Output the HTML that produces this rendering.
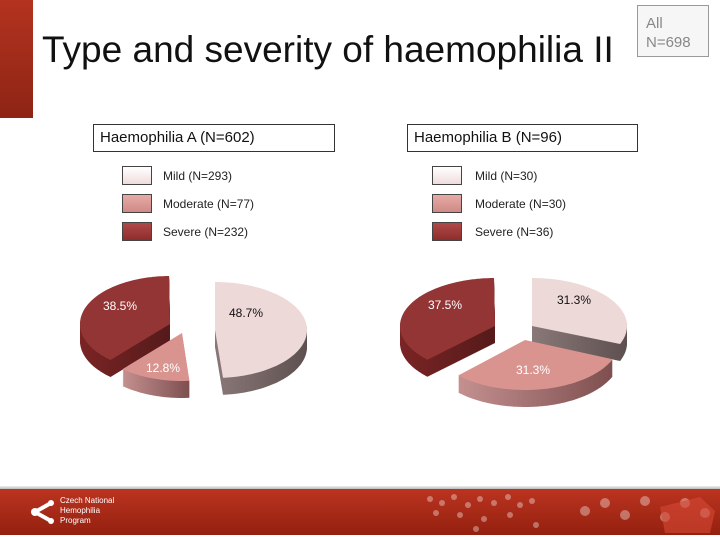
<!DOCTYPE html>
<html><head><meta charset="utf-8"><style>
body{margin:0;width:720px;height:540px;background:#fff;position:relative;overflow:hidden;font-family:"Liberation Sans",sans-serif}
.abs{position:absolute}
.hdr{position:absolute;border:1px solid #333;font-size:15px;line-height:26px;padding-left:6px;box-sizing:border-box;height:28px;color:#111}
.sw{position:absolute;width:28px;height:17px;border:1px solid #444}
.lt{position:absolute;font-size:12px;color:#222}
</style></head><body>
<div class="abs" style="left:0;top:0;width:33px;height:118px;background:linear-gradient(#b3331f,#8e2415)"></div>
<div class="abs" style="left:42px;top:29px;font-size:37px;color:#111;white-space:nowrap">Type and severity of haemophilia II</div>
<div class="abs" style="left:637px;top:5px;width:72px;height:52px;border:1px solid #999;background:#f6f6f6;color:#888;font-size:15px;line-height:19px;padding:8px 0 0 8px;box-sizing:border-box">All<br>N=698</div>

<div class="hdr" style="left:93px;top:124px;width:242px">Haemophilia A (N=602)</div>
<div class="hdr" style="left:407px;top:124px;width:231px">Haemophilia B (N=96)</div>

<div class="sw" style="left:122px;top:166px;background:linear-gradient(#fff,#f0dcdc)"></div>
<div class="sw" style="left:122px;top:194px;background:linear-gradient(#e6aaa7,#d08a86)"></div>
<div class="sw" style="left:122px;top:222px;background:linear-gradient(#b04a4a,#8e2c2c)"></div>
<div class="lt" style="left:163px;top:169px">Mild (N=293)</div>
<div class="lt" style="left:163px;top:197px">Moderate (N=77)</div>
<div class="lt" style="left:163px;top:225px">Severe (N=232)</div>

<div class="sw" style="left:432px;top:166px;background:linear-gradient(#fff,#f0dcdc)"></div>
<div class="sw" style="left:432px;top:194px;background:linear-gradient(#e6aaa7,#d08a86)"></div>
<div class="sw" style="left:432px;top:222px;background:linear-gradient(#b04a4a,#8e2c2c)"></div>
<div class="lt" style="left:475px;top:169px">Mild (N=30)</div>
<div class="lt" style="left:475px;top:197px">Moderate (N=30)</div>
<div class="lt" style="left:475px;top:225px">Severe (N=36)</div>

<svg id="s" class="abs" style="left:0;top:0" width="720" height="540"></svg>

<div class="abs" style="left:0;top:486px;width:720px;height:3px;background:linear-gradient(#eee,#bbb)"></div>
<div class="abs" style="left:0;top:489px;width:720px;height:46px;background:linear-gradient(#bb3420,#94200f)"></div>
<svg class="abs" style="left:30px;top:497px" width="30" height="30"><circle cx="5" cy="15" r="4" fill="#fff"/><circle cx="21" cy="6" r="3" fill="#fff"/><circle cx="21" cy="24" r="3" fill="#fff"/><path d="M5 15L21 6M5 15L21 24" stroke="#fff" stroke-width="4"/></svg>
<div class="abs" style="left:60px;top:496px;color:#fff;font-size:8px;line-height:10px">Czech National<br>Hemophilia<br>Program</div>
<svg class="abs" style="left:410px;top:489px" width="310" height="46">
<g fill="#fff" opacity="0.35">
<circle cx="20" cy="10" r="3"/><circle cx="32" cy="14" r="3"/><circle cx="44" cy="8" r="3"/><circle cx="58" cy="16" r="3"/><circle cx="70" cy="10" r="3"/><circle cx="84" cy="14" r="3"/><circle cx="98" cy="8" r="3"/><circle cx="110" cy="16" r="3"/><circle cx="122" cy="12" r="3"/><circle cx="26" cy="24" r="3"/><circle cx="50" cy="26" r="3"/><circle cx="74" cy="30" r="3"/><circle cx="100" cy="26" r="3"/><circle cx="66" cy="40" r="3"/><circle cx="126" cy="36" r="3"/>
<circle cx="175" cy="22" r="5"/><circle cx="195" cy="14" r="5"/><circle cx="215" cy="26" r="5"/><circle cx="235" cy="12" r="5"/><circle cx="255" cy="28" r="5"/><circle cx="275" cy="14" r="5"/><circle cx="295" cy="24" r="5"/>
</g>
<path d="M250 18L290 8L305 22L300 44L255 44Z" fill="#d64a36" opacity="0.6"/>
</svg>

<div class="abs" style="left:229px;top:306px;font-size:12px;color:#111">48.7%</div>
<div class="abs" style="left:146px;top:361px;font-size:12px;color:#fff">12.8%</div>
<div class="abs" style="left:103px;top:299px;font-size:12px;color:#fff">38.5%</div>
<div class="abs" style="left:557px;top:293px;font-size:12px;color:#111">31.3%</div>
<div class="abs" style="left:516px;top:363px;font-size:12px;color:#fff">31.3%</div>
<div class="abs" style="left:428px;top:298px;font-size:12px;color:#fff">37.5%</div>

<script>
var s=document.getElementById('s'),NS='http://www.w3.org/2000/svg';
var defs=document.createElementNS(NS,'defs');
defs.innerHTML='<linearGradient id="gm" x1="0" x2="1"><stop offset="0" stop-color="#8a7878"/><stop offset="1" stop-color="#5e5050"/></linearGradient>'+
'<linearGradient id="gd" x1="0" x2="1"><stop offset="0" stop-color="#c49090"/><stop offset="1" stop-color="#7e4f4f"/></linearGradient>'+
'<linearGradient id="gs" x1="0" x2="1"><stop offset="0" stop-color="#7a2424"/><stop offset="1" stop-color="#551a1a"/></linearGradient>';
s.appendChild(defs);
function path(cx,cy,rx,ry,a0,a1){
 var d='M'+cx+' '+cy;
 for(var t=a0;t<=a1+0.01;t+=1){var r=Math.min(t,a1)*Math.PI/180;d+='L'+(cx+rx*Math.sin(r)).toFixed(1)+' '+(cy-ry*Math.cos(r)).toFixed(1);}
 return d+'Z';
}
function slice(cx,cy,rx,ry,a0,a1,top,side,dep){
 for(var k=dep;k>=1;k--){var p=document.createElementNS(NS,'path');p.setAttribute('d',path(cx,cy+k,rx,ry,a0,a1));p.setAttribute('fill',side);s.appendChild(p);}
 var p=document.createElementNS(NS,'path');p.setAttribute('d',path(cx,cy,rx,ry,a0,a1));p.setAttribute('fill',top);s.appendChild(p);
}
var D=17;
slice(170,324,90,48,221.4,360,'#943535','url(#gs)',D);
slice(215,330,92,48,0,175.3,'#eed9d9','url(#gm)',D);
slice(182,333,90,48,175.3,221.4,'#d99490','url(#gd)',D);
slice(495,326,95,48,225.4,360,'#943535','url(#gs)',D);
slice(532,326,95,48,0,112.7,'#eed9d9','url(#gm)',D);
slice(525,340,95,50,112.7,225.4,'#d99490','url(#gd)',D);
</script>
</body></html>
